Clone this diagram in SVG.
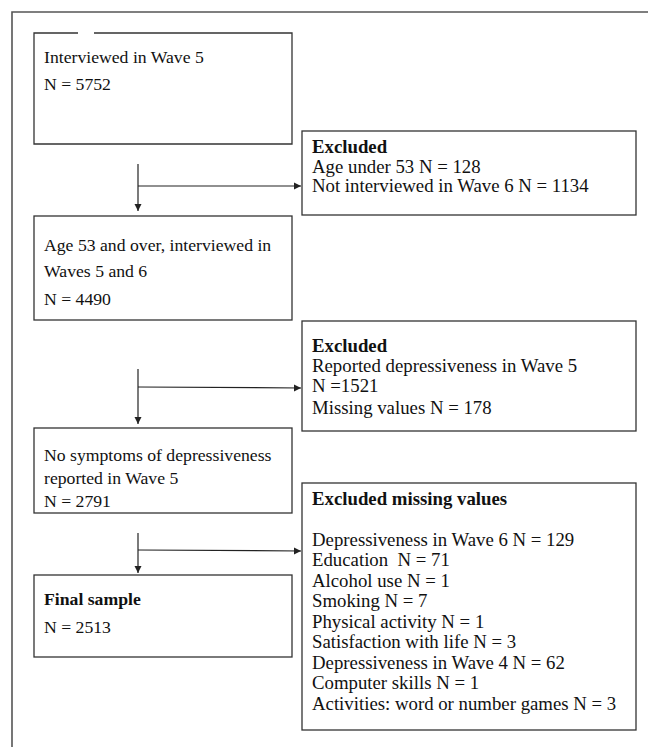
<svg xmlns="http://www.w3.org/2000/svg" width="648" height="747" viewBox="0 0 648 747">
<style>
.box{fill:#fff;stroke:#333;stroke-width:1.3}
.t{font-family:"Liberation Serif","Times New Roman",serif;font-size:17.7px;fill:#111}
.r{font-size:18.8px}
.b{font-weight:bold}
.c{stroke:#222;stroke-width:1.2;fill:none}
</style>
<defs>
<marker id="ah" markerWidth="8" markerHeight="8" refX="7" refY="4" orient="auto" markerUnits="userSpaceOnUse">
<path d="M0,0.5 L7,4 L0,7.5 Z" fill="#222"/>
</marker>
</defs>
<rect width="648" height="747" fill="#fff"/>
<path d="M12,747 V12 H648" fill="none" stroke="#555" stroke-width="1.6"/>

<g id="n1">
<path class="box" d="M94,33 H292 V144 H34 V33 H78"/>
<text class="t" x="44" y="63">Interviewed in Wave 5</text>
<text class="t" x="44" y="90">N = 5752</text>
</g>
<g id="e1">
<rect class="box" x="302" y="131" width="334" height="84"/>
<text class="t r b" x="312" y="153">Excluded</text>
<text class="t r" x="312" y="172.5">Age under 53 N = 128</text>
<text class="t r" x="312" y="192">Not interviewed in Wave 6 N = 1134</text>
</g>
<g id="n2">
<rect class="box" x="34" y="216" width="258" height="104"/>
<text class="t" x="44" y="251">Age 53 and over, interviewed in</text>
<text class="t" x="44" y="277">Waves 5 and 6</text>
<text class="t" x="44" y="305">N = 4490</text>
</g>
<g id="e2">
<rect class="box" x="302" y="321" width="334" height="110"/>
<text class="t r b" x="312" y="352">Excluded</text>
<text class="t r" x="312" y="372">Reported depressiveness in Wave 5</text>
<text class="t r" x="312" y="392">N =1521</text>
<text class="t r" x="312" y="414">Missing values N = 178</text>
</g>
<g id="n3">
<rect class="box" x="34" y="428" width="258" height="85"/>
<text class="t" x="44" y="461">No symptoms of depressiveness</text>
<text class="t" x="44" y="484">reported in Wave 5</text>
<text class="t" x="44" y="507">N = 2791</text>
</g>
<g id="e3">
<rect class="box" x="302" y="483" width="334" height="247"/>
<text class="t r b" x="312" y="505">Excluded missing values</text>
<text class="t r" x="312" y="546">Depressiveness in Wave 6 N = 129</text>
<text class="t r" x="312" y="566" xml:space="preserve">Education  N = 71</text>
<text class="t r" x="312" y="587">Alcohol use N = 1</text>
<text class="t r" x="312" y="607">Smoking N = 7</text>
<text class="t r" x="312" y="628">Physical activity N = 1</text>
<text class="t r" x="312" y="648">Satisfaction with life N = 3</text>
<text class="t r" x="312" y="669">Depressiveness in Wave 4 N = 62</text>
<text class="t r" x="312" y="689">Computer skills N = 1</text>
<text class="t r" x="312" y="710">Activities: word or number games N = 3</text>
</g>
<g id="n4">
<rect class="box" x="34" y="575" width="258" height="82"/>
<text class="t b" x="44" y="605">Final sample</text>
<text class="t" x="44" y="633">N = 2513</text>
</g>

<g id="connectors">
<line class="c" x1="138" y1="164" x2="138" y2="211" marker-end="url(#ah)"/>
<line class="c" x1="138" y1="186" x2="301" y2="186" marker-end="url(#ah)"/>
<line class="c" x1="138" y1="369" x2="138" y2="424" marker-end="url(#ah)"/>
<line class="c" x1="138" y1="387" x2="301" y2="388" marker-end="url(#ah)"/>
<line class="c" x1="138" y1="533" x2="138" y2="573" marker-end="url(#ah)"/>
<line class="c" x1="138" y1="550" x2="301" y2="551" marker-end="url(#ah)"/>
</g>
</svg>
